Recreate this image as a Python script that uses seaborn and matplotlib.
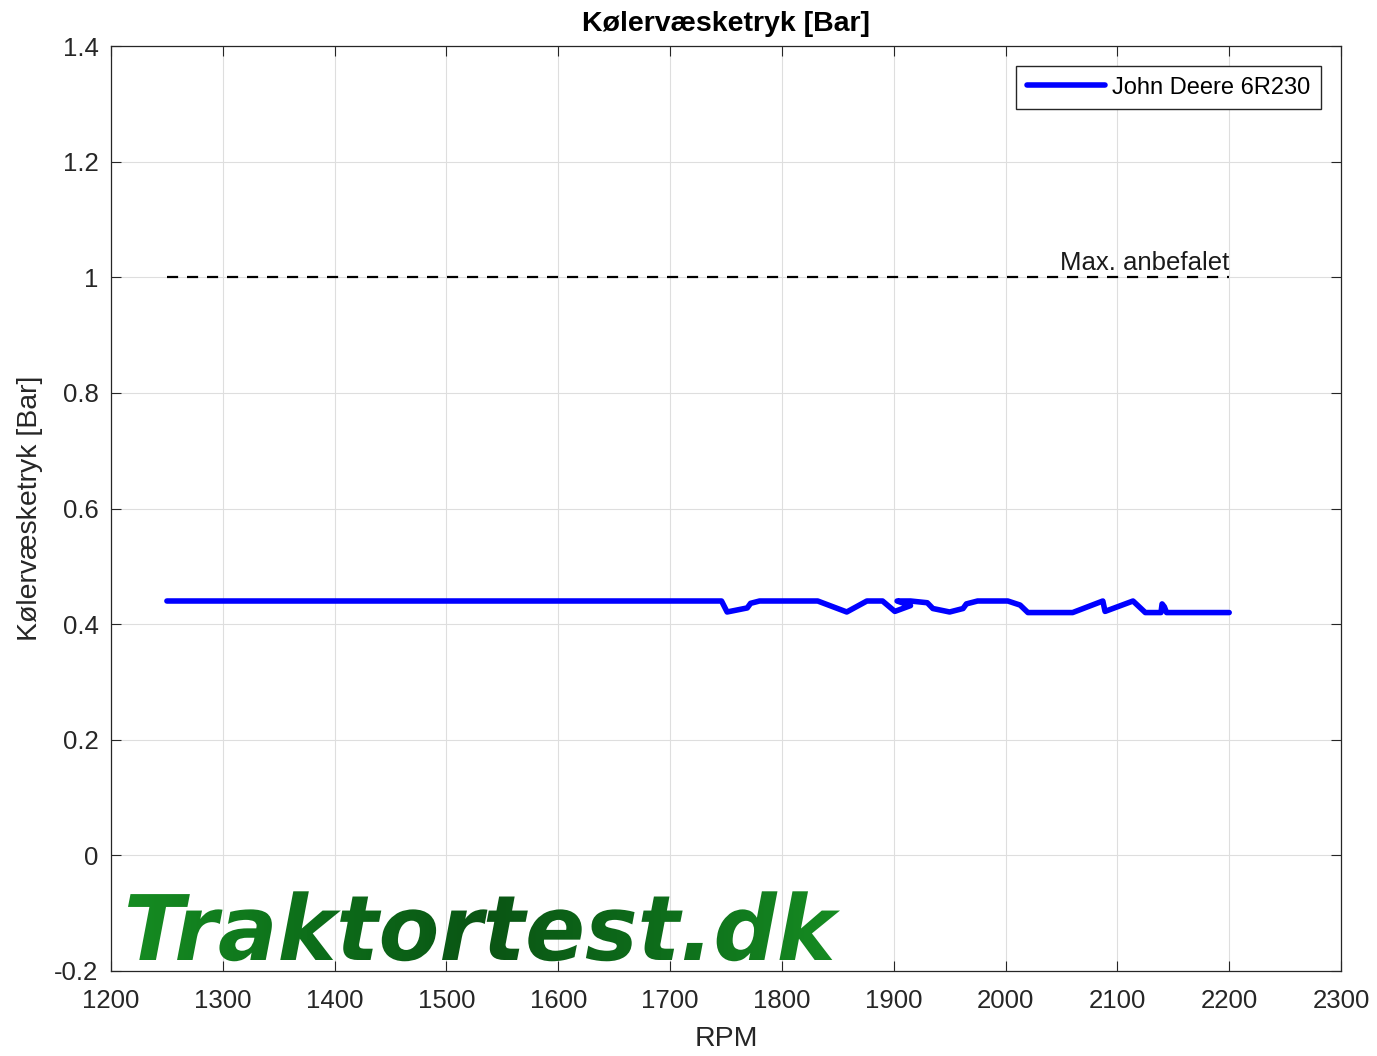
import numpy as np
import pandas as pd
import matplotlib
matplotlib.use("Agg")
import matplotlib.pyplot as plt
import seaborn as sns
from matplotlib.textpath import TextPath
from matplotlib.patches import PathPatch
from matplotlib.font_manager import FontProperties
from matplotlib.transforms import Affine2D, IdentityTransform
from matplotlib.colors import LinearSegmentedColormap

rpm = [1250, 1500, 1700, 1746, 1751, 1769, 1772, 1780, 1832, 1858, 1876, 1890,
       1901, 1915, 1903, 1915, 1930, 1935, 1950, 1962, 1965, 1975, 2002, 2013,
       2020, 2060, 2087, 2089, 2114, 2125, 2139, 2140, 2142, 2144, 2160, 2200]
pressure = [0.44, 0.44, 0.44, 0.44, 0.421, 0.428, 0.436, 0.44, 0.44, 0.421, 0.44, 0.44,
            0.422, 0.432, 0.44, 0.44, 0.437, 0.427, 0.421, 0.427, 0.435, 0.44, 0.44, 0.433,
            0.42, 0.42, 0.44, 0.422, 0.44, 0.42, 0.42, 0.435, 0.43, 0.42, 0.42, 0.42]
max_rpm = [1250, 2200]
max_val = [1.0, 1.0]

sns.set_theme(style="whitegrid")
plt.rcParams['font.family'] = ['Liberation Sans', 'DejaVu Sans']

W, H, DPI = 1377, 1056, 100
fig = plt.figure(figsize=(W / DPI, H / DPI), dpi=DPI)
ax = fig.add_axes([111 / W, 1 - 971 / H, 1230 / W, 925 / H])

df = pd.DataFrame({"RPM": rpm, "P": pressure})
sns.lineplot(data=df, x="RPM", y="P", sort=False, ax=ax, color="#0000ff",
             linewidth=4, label="John Deere 6R230", estimator=None)
ax.plot(max_rpm, max_val, color="black", linestyle=(0, (5, 4)), linewidth=1.6)
ax.text(max_rpm[-1], 1.004, "Max. anbefalet", ha="right", va="bottom",
        fontsize=18.5, color="#1a1a1a")

ax.set_xlim(1200, 2300)
ax.set_ylim(-0.2, 1.4)
ax.set_xticks(np.arange(1200, 2301, 100))
ax.set_yticks(np.round(np.arange(-0.2, 1.41, 0.2), 1))
ax.set_yticklabels(["-0.2", "0", "0.2", "0.4", "0.6", "0.8", "1", "1.2", "1.4"])
ax.tick_params(axis="both", labelsize=18.5, direction="in", length=7, width=0.8,
               top=True, right=True, bottom=True, left=True, colors="#262626",
               labelcolor="#262626")
ax.tick_params(axis="x", pad=13)
ax.tick_params(axis="y", pad=9)
ax.grid(True, color="#dedede", linewidth=0.8)
for s in ax.spines.values():
    s.set_color("#262626")
    s.set_linewidth(0.9)
ax.set_facecolor("white")
ax.set_xlabel("RPM", fontsize=20.5, color="#262626", labelpad=9)
ax.set_ylabel("Kølervæsketryk [Bar]", fontsize=20.5, color="#262626", labelpad=8)
ax.set_title("Kølervæsketryk [Bar]", fontsize=20.5, fontweight="bold", pad=11,
             color="black")

leg = ax.legend(loc="upper right", fontsize=17, frameon=True, fancybox=False,
                edgecolor="#262626", framealpha=1, borderaxespad=0.85,
                handlelength=3.3, handletextpad=0.3, borderpad=0.45)
leg.get_frame().set_linewidth(1.0)
for t in leg.get_texts():
    t.set_color("black")

# Watermark with horizontal green gradient, clipped to the text outline
fp = FontProperties(family="DejaVu Sans", weight="bold", style="oblique")
tp = TextPath((0, 0), "Traktortest.dk", size=1, prop=fp)
bb = tp.get_extents()
x0_px, x1_px, base_px, cap_px = 128, 840, 1056 - 960, 66
scale_y = cap_px / 0.73
scale_x = (x1_px - x0_px) / bb.width
tr = Affine2D().translate(-bb.x0, 0).scale(scale_x, scale_y).translate(x0_px, base_px)
path = tr.transform_path(tp)
patch = PathPatch(path, transform=IdentityTransform(), facecolor="none",
                  edgecolor="none")
fig.add_artist(patch)
cmap = LinearSegmentedColormap.from_list(
    "g", ["#168c22", "#0d6f1a", "#0a5514", "#0e6d1b", "#168c22"])
grad = np.linspace(0, 1, 256)[None, :]
ext = [x0_px / W, x1_px / W, (base_px - 25) / H, (base_px + cap_px + 10) / H]
wm = fig.add_axes([0, 0, 1, 1], zorder=10)
wm.set_axis_off()
img = wm.imshow(np.repeat(grad, 2, axis=0), cmap=cmap, extent=ext,
                aspect="auto", interpolation="bilinear")
img.set_clip_path(patch)
wm.set_xlim(0, 1)
wm.set_ylim(0, 1)

fig.savefig("out.png", dpi=DPI)
